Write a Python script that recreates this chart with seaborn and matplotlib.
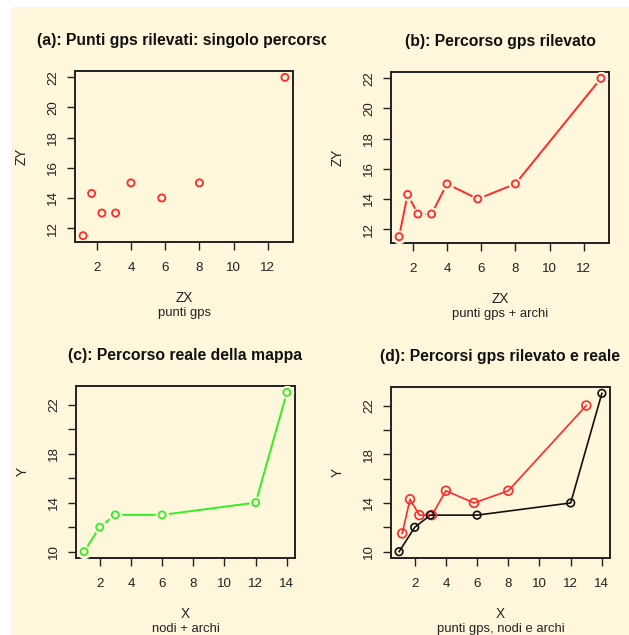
import numpy as np
import pandas as pd
import matplotlib
matplotlib.use("Agg")
import matplotlib.pyplot as plt
import seaborn as sns
from matplotlib.patches import Rectangle
from matplotlib.transforms import Bbox, TransformedBbox

# ---------------- data ----------------
gps_x = [1.2, 1.7, 2.3, 3.1, 4.0, 5.8, 8.0, 13.0]
gps_y = [11.5, 14.3, 13.0, 13.0, 15.0, 14.0, 15.0, 22.0]
real_x = [1, 2, 3, 6, 12, 14]
real_y = [10, 12, 13, 13, 14, 23]

titles = ["(a): Punti gps rilevati: singolo percorso",
          "(b): Percorso gps rilevato",
          "(c): Percorso reale della mappa",
          "(d): Percorsi gps rilevato e reale"]
xlabels = ["ZX", "ZX", "X", "X"]
ylabels = ["ZY", "ZY", "Y", "Y"]
subtitles = ["punti gps", "punti gps + archi", "nodi + archi", "punti gps, nodi e archi"]
ticks_ab_x = [2, 4, 6, 8, 10, 12]
ticks_ab_y = [12, 14, 16, 18, 20, 22]
ticks_cd_x = [2, 4, 6, 8, 10, 12, 14]
ticks_cd_y = [10, 12, 14, 16, 18, 20, 22]
labels_cd_y = ["10", "", "14", "", "18", "", "22"]

gps = pd.DataFrame({"x": gps_x, "y": gps_y})
real = pd.DataFrame({"x": real_x, "y": real_y})

# ---------------- style ----------------
BG = "#FEF7DB"
INK = "#222222"
RED = "#FF2A2A"
GREEN = "#33EE22"
BLACK = "#111111"

plt.rcParams["font.family"] = ["Liberation Sans", "DejaVu Sans"]
plt.rcParams["font.size"] = 9.4

W, H = 629, 635
fig = plt.figure(figsize=(W / 100, H / 100), dpi=100)
fig.patch.set_facecolor("white")
fig.patches.append(Rectangle((11 / W, 0), 1 - 11 / W, (H - 7) / H,
                             transform=fig.transFigure, facecolor=BG,
                             edgecolor="none", zorder=-10))

def axrect(l, t, r, b):
    return [l / W, 1 - b / H, (r - l) / W, (b - t) / H]

axes = [fig.add_axes(axrect(75, 71, 293, 242)),
        fig.add_axes(axrect(391, 72, 609, 243)),
        fig.add_axes(axrect(76, 386, 295, 558)),
        fig.add_axes(axrect(391, 387, 610, 558))]

# horizontal extent of each panel's figure region (title clipping)
regions = [(0, 326), (326, W), (0, 326), (326, W)]

def lims(vals, f=0.04):
    lo, hi = min(vals), max(vals)
    d = (hi - lo) * f
    return lo - d, hi + d

def style(ax, i, xt, yt, ytl=None):
    ax.set_facecolor("none")
    for s in ax.spines.values():
        s.set_color(INK)
        s.set_linewidth(1.4)
    ax.set_xticks(xt)
    ax.set_yticks(yt)
    if ytl is not None:
        ax.set_yticklabels(ytl)
    ax.tick_params(direction="out", length=6, width=1.0, color=INK,
                   labelcolor=INK, labelsize=9.6)
    ax.tick_params(axis="x", pad=8.5)
    ax.tick_params(axis="y", pad=5.5)
    for lab in ax.get_yticklabels():
        lab.set_rotation(90)
        lab.set_va("center")
    ax.set_xlabel("")
    ax.set_ylabel("")
    t = ax.set_title(titles[i], fontsize=11.3, fontweight="bold", color="#111111", pad=18.5)
    x0, x1 = regions[i]
    t.set_clip_on(True)
    t.set_clip_box(TransformedBbox(Bbox([[x0 / W, 0], [x1 / W, 1]]), fig.transFigure))
    ax.annotate(xlabels[i], xy=(0.5, 0), xycoords="axes fraction",
                xytext=(0, -40.0), textcoords="offset points",
                ha="center", va="center", fontsize=9.8, color=INK)
    ax.annotate(subtitles[i], xy=(0.5, 0), xycoords="axes fraction",
                xytext=(0, -51.0), textcoords="offset points",
                ha="center", va="center", fontsize=9.4, color=INK,
                annotation_clip=False)
    ax.annotate(ylabels[i], xy=(0, 0.5), xycoords="axes fraction",
                xytext=(-38.5, 0), textcoords="offset points",
                ha="center", va="center", rotation=90, fontsize=9.8, color=INK)

def circles(ax, df, color, s=26, lw=1.3):
    sns.scatterplot(data=df, x="x", y="y", ax=ax, marker="o", s=s,
                    facecolor="none", edgecolor=color, linewidth=lw,
                    zorder=4, legend=False)

def halo(ax, df):
    sns.scatterplot(data=df, x="x", y="y", ax=ax, marker="o", s=95,
                    color=BG, edgecolor=BG, linewidth=0, zorder=3, legend=False)

def path(ax, df, color, lw=1.4):
    sns.lineplot(data=df, x="x", y="y", ax=ax, sort=False, color=color,
                 linewidth=lw, zorder=2, estimator=None)

# (a) points only
ax = axes[0]
circles(ax, gps, RED)
ax.set_xlim(*lims(gps_x)); ax.set_ylim(*lims(gps_y))
style(ax, 0, ticks_ab_x, ticks_ab_y)

# (b) points + arcs (type "b")
ax = axes[1]
path(ax, gps, RED)
halo(ax, gps)
circles(ax, gps, RED)
ax.set_xlim(*lims(gps_x)); ax.set_ylim(*lims(gps_y))
style(ax, 1, ticks_ab_x, ticks_ab_y)

# (c) real path
ax = axes[2]
path(ax, real, GREEN)
halo(ax, real)
circles(ax, real, GREEN)
ax.set_xlim(*lims(real_x)); ax.set_ylim(*lims(real_y))
style(ax, 2, ticks_cd_x, ticks_cd_y, labels_cd_y)

# (d) both (type "o")
ax = axes[3]
path(ax, gps, RED, lw=1.2)
circles(ax, gps, RED, s=40, lw=1.2)
path(ax, real, BLACK, lw=1.2)
circles(ax, real, BLACK, s=30, lw=1.2)
ax.set_xlim(*lims(real_x + gps_x)); ax.set_ylim(*lims(real_y + gps_y))
style(ax, 3, ticks_cd_x, ticks_cd_y, labels_cd_y)

fig.savefig("out.png", dpi=100, facecolor=fig.get_facecolor())
